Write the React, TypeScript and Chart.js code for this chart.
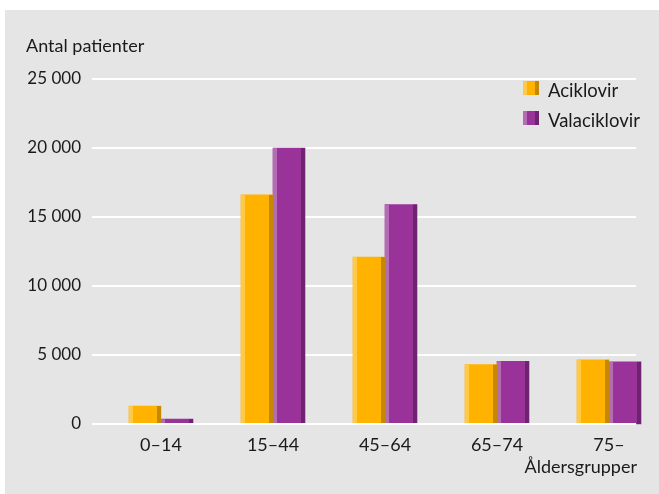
import React, { useEffect, useRef } from "react";
import { Chart, registerables } from "chart.js";

Chart.register(...registerables);

const categories = ["0–14", "15–44", "45–64", "65–74", "75–"];
const aciklovir = [1300, 16600, 12100, 4300, 4650];
const valaciklovir = [350, 20000, 15900, 4550, 4500];
const yTicks = [0, 5000, 10000, 15000, 20000, 25000];
const seriesNames = ["Aciklovir", "Valaciklovir"];
const yTitle = "Antal patienter";
const xTitle = "Åldersgrupper";

const FONT = "Lato";
const TEXT = "#1a1a1a";
const palettes = [
  { light: "#FFC845", main: "#FFB200", dark: "#C48900" },
  { light: "#B46CB4", main: "#993399", dark: "#6E2270" },
];

const fmt = (v: number) => String(v).replace(/\B(?=(\d{3})+(?!\d))/g, " ");

const decor = {
  id: "decor",
  beforeDraw(chart: any) {
    const ctx = chart.ctx;
    ctx.save();
    ctx.fillStyle = "#ffffff";
    ctx.fillRect(0, 0, chart.width, chart.height);
    ctx.fillStyle = "#e5e5e5";
    ctx.fillRect(5, 10, chart.width - 5, chart.height - 10);
    ctx.restore();
  },
  beforeDatasetsDraw(chart: any) {
    const ctx = chart.ctx;
    const y = chart.scales.y;
    ctx.save();
    ctx.strokeStyle = "#ffffff";
    ctx.lineWidth = 2;
    y.ticks.forEach((t: any) => {
      if (t.value === 0) return;
      const py = Math.round(y.getPixelForValue(t.value));
      ctx.beginPath();
      ctx.moveTo(92, py);
      ctx.lineTo(636, py);
      ctx.stroke();
    });
    ctx.restore();
  },
  afterDatasetsDraw(chart: any) {
    const ctx = chart.ctx;
    ctx.save();
    chart.data.datasets.forEach((ds: any, i: number) => {
      const meta = chart.getDatasetMeta(i);
      const pal = palettes[i];
      meta.data.forEach((el: any) => {
        const { x, y, base, width } = el.getProps(["x", "y", "base", "width"], true);
        const left = x - width / 2;
        ctx.fillStyle = pal.light;
        ctx.fillRect(left, y, 4, base - y);
        ctx.fillStyle = pal.dark;
        ctx.fillRect(left + width - 4, y, 4, base - y);
      });
    });
    // zero line
    const ys = chart.scales.y;
    const p0 = Math.round(ys.getPixelForValue(0));
    ctx.strokeStyle = "#ffffff";
    ctx.lineWidth = 2;
    ctx.beginPath();
    ctx.moveTo(92, p0);
    ctx.lineTo(636, p0);
    ctx.stroke();

    // titles
    ctx.fillStyle = TEXT;
    ctx.font = `18px ${FONT}`;
    ctx.textBaseline = "alphabetic";
    ctx.textAlign = "left";
    ctx.fillText(yTitle, 26, 52);
    ctx.textAlign = "right";
    ctx.fillText(xTitle, 637, 473);

    // legend
    ctx.font = `18.5px ${FONT}`;
    chart.data.datasets.forEach((ds: any, i: number) => {
      const pal = palettes[i];
      const sy = 81 + i * 30;
      ctx.fillStyle = pal.light;
      ctx.fillRect(523, sy, 4, 14);
      ctx.fillStyle = pal.main;
      ctx.fillRect(527, sy, 8, 14);
      ctx.fillStyle = pal.dark;
      ctx.fillRect(535, sy, 4, 14);
      ctx.fillStyle = TEXT;
      ctx.textAlign = "left";
      ctx.fillText(ds.label, 548, sy + 16);
    });
    ctx.restore();
  },
};

export default function App() {
  const ref = useRef<HTMLCanvasElement | null>(null);
  useEffect(() => {
    if (!ref.current) return;
    const chart = new Chart(ref.current, {
      type: "bar",
      data: {
        labels: categories,
        datasets: [
          { label: seriesNames[0], data: aciklovir, backgroundColor: palettes[0].main, barThickness: 32, clip: false as any },
          { label: seriesNames[1], data: valaciklovir, backgroundColor: palettes[1].main, barThickness: 32, clip: false as any },
        ],
      },
      options: {
        responsive: false,
        animation: false,
        devicePixelRatio: 1,
        layout: { padding: { top: 79, bottom: 0, left: 0, right: 35 } },
        plugins: { legend: { display: false }, title: { display: false }, tooltip: { enabled: false } },
        scales: {
          x: {
            grid: { display: false, drawTicks: false },
            border: { display: false },
            ticks: { font: { family: FONT, size: 18 }, color: TEXT, padding: 10 },
            afterFit: (s: any) => { s.height = 70; },
          },
          y: {
            min: 0,
            max: 25000,
            grid: { display: false, drawTicks: false },
            border: { display: false },
            ticks: {
              font: { family: FONT, size: 17 },
              color: TEXT,
              padding: 24,
              callback: (v: any) => fmt(Number(v)),
            },
            afterBuildTicks: (s: any) => { s.ticks = yTicks.map((v) => ({ value: v })); },
            afterFit: (s: any) => { s.width = 105; },
          },
        },
      },
      plugins: [decor],
    });
    return () => chart.destroy();
  }, []);
  return (
    <div style={{ position: "absolute", left: 0, top: 0, width: 659, height: 494, overflow: "hidden" }}>
      <canvas ref={ref} width={700} height={494} style={{ width: 700, height: 494, display: "block" }} />
    </div>
  );
}
